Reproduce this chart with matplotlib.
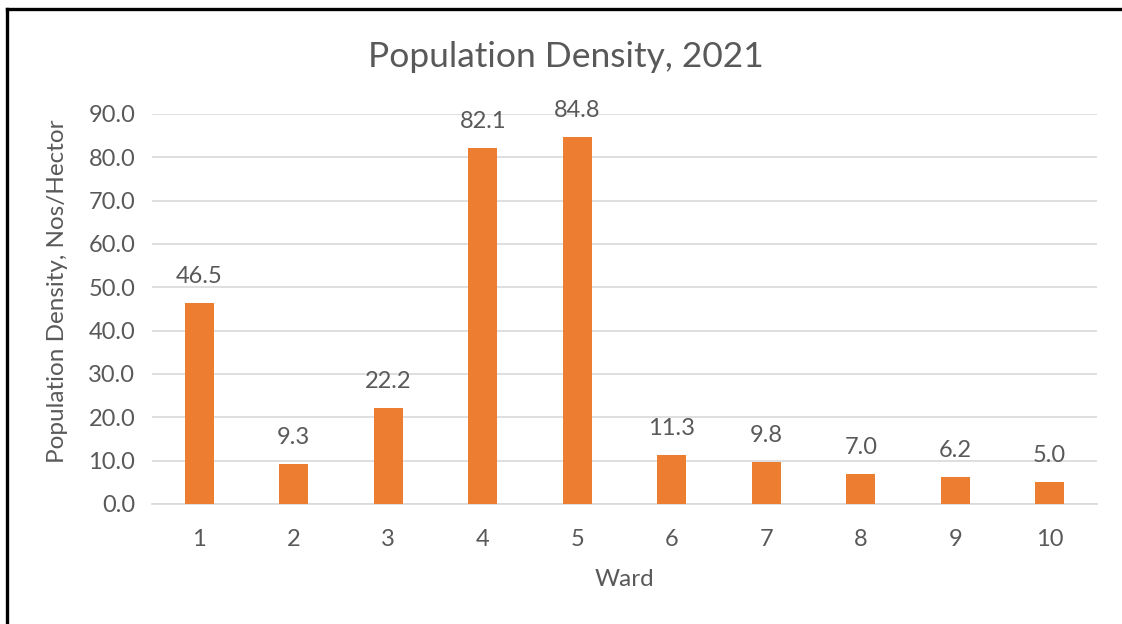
"""Population density by ward, 2021 - column chart"""

import matplotlib
matplotlib.use('Agg')
import matplotlib.pyplot as plt
from matplotlib.lines import Line2D

# Data
wards = ['1', '2', '3', '4', '5', '6', '7', '8', '9', '10']
density = [46.5, 9.3, 22.2, 82.1, 84.8, 11.3, 9.8, 7.0, 6.2, 5.0]
y_ticks = [0, 10, 20, 30, 40, 50, 60, 70, 80, 90]

BAR_COLOR = '#ED7D31'
TEXT_COLOR = '#595959'
GRID_COLOR = '#D9D9D9'

plt.rcParams['font.family'] = ['Lato', 'DejaVu Sans']

fig = plt.figure(figsize=(11.22, 6.24), dpi=100)
ax = fig.add_axes([152 / 1122, 1 - 504 / 624, 945 / 1122, 390 / 624])

x = list(range(len(wards)))
bars = ax.bar(x, density, width=0.31, color=BAR_COLOR, zorder=3)

# Value labels above each column
for xi, v in zip(x, density):
    ax.annotate(f'{v:.1f}', (xi, v), xytext=(0, 19), textcoords='offset points',
                ha='center', va='center', fontsize=17, color=TEXT_COLOR)

ax.set_xlim(-0.5, len(wards) - 0.5)
ax.set_ylim(0, 90)
ax.set_xticks(x)
ax.set_xticklabels(wards)
ax.set_yticks(y_ticks)
ax.set_yticklabels([f'{t:.1f}' for t in y_ticks])
ax.tick_params(axis='both', length=0, labelsize=17, labelcolor=TEXT_COLOR)
ax.tick_params(axis='x', pad=18)
ax.tick_params(axis='y', pad=12)

ax.grid(axis='y', color=GRID_COLOR, linewidth=1.2, zorder=0)
for side in ('top', 'right', 'left'):
    ax.spines[side].set_visible(False)
ax.spines['bottom'].set_color(GRID_COLOR)
ax.spines['bottom'].set_linewidth(1.2)

ax.set_xlabel('Ward', fontsize=17.5, color=TEXT_COLOR, labelpad=14)

# Axis title for y sits a little above the plot's vertical centre
fig.text(58 / 1122, 1 - 291 / 624, 'Population Density, Nos/Hector', rotation=90,
         ha='center', va='center', fontsize=17.5, color=TEXT_COLOR)

fig.text(566 / 1122, 1 - 57 / 624, 'Population Density, 2021', ha='center', va='center',
         fontsize=25.5, color=TEXT_COLOR)

# Frame lines along the top and left edges
fig.add_artist(Line2D([6.5 / 1122, 1], [1 - 8.5 / 624, 1 - 8.5 / 624],
                      transform=fig.transFigure, color='black', linewidth=2.4))
fig.add_artist(Line2D([6.5 / 1122, 6.5 / 1122], [0, 1 - 8.5 / 624],
                      transform=fig.transFigure, color='black', linewidth=2.4))

fig.savefig('out.png', dpi=100, facecolor='white')
